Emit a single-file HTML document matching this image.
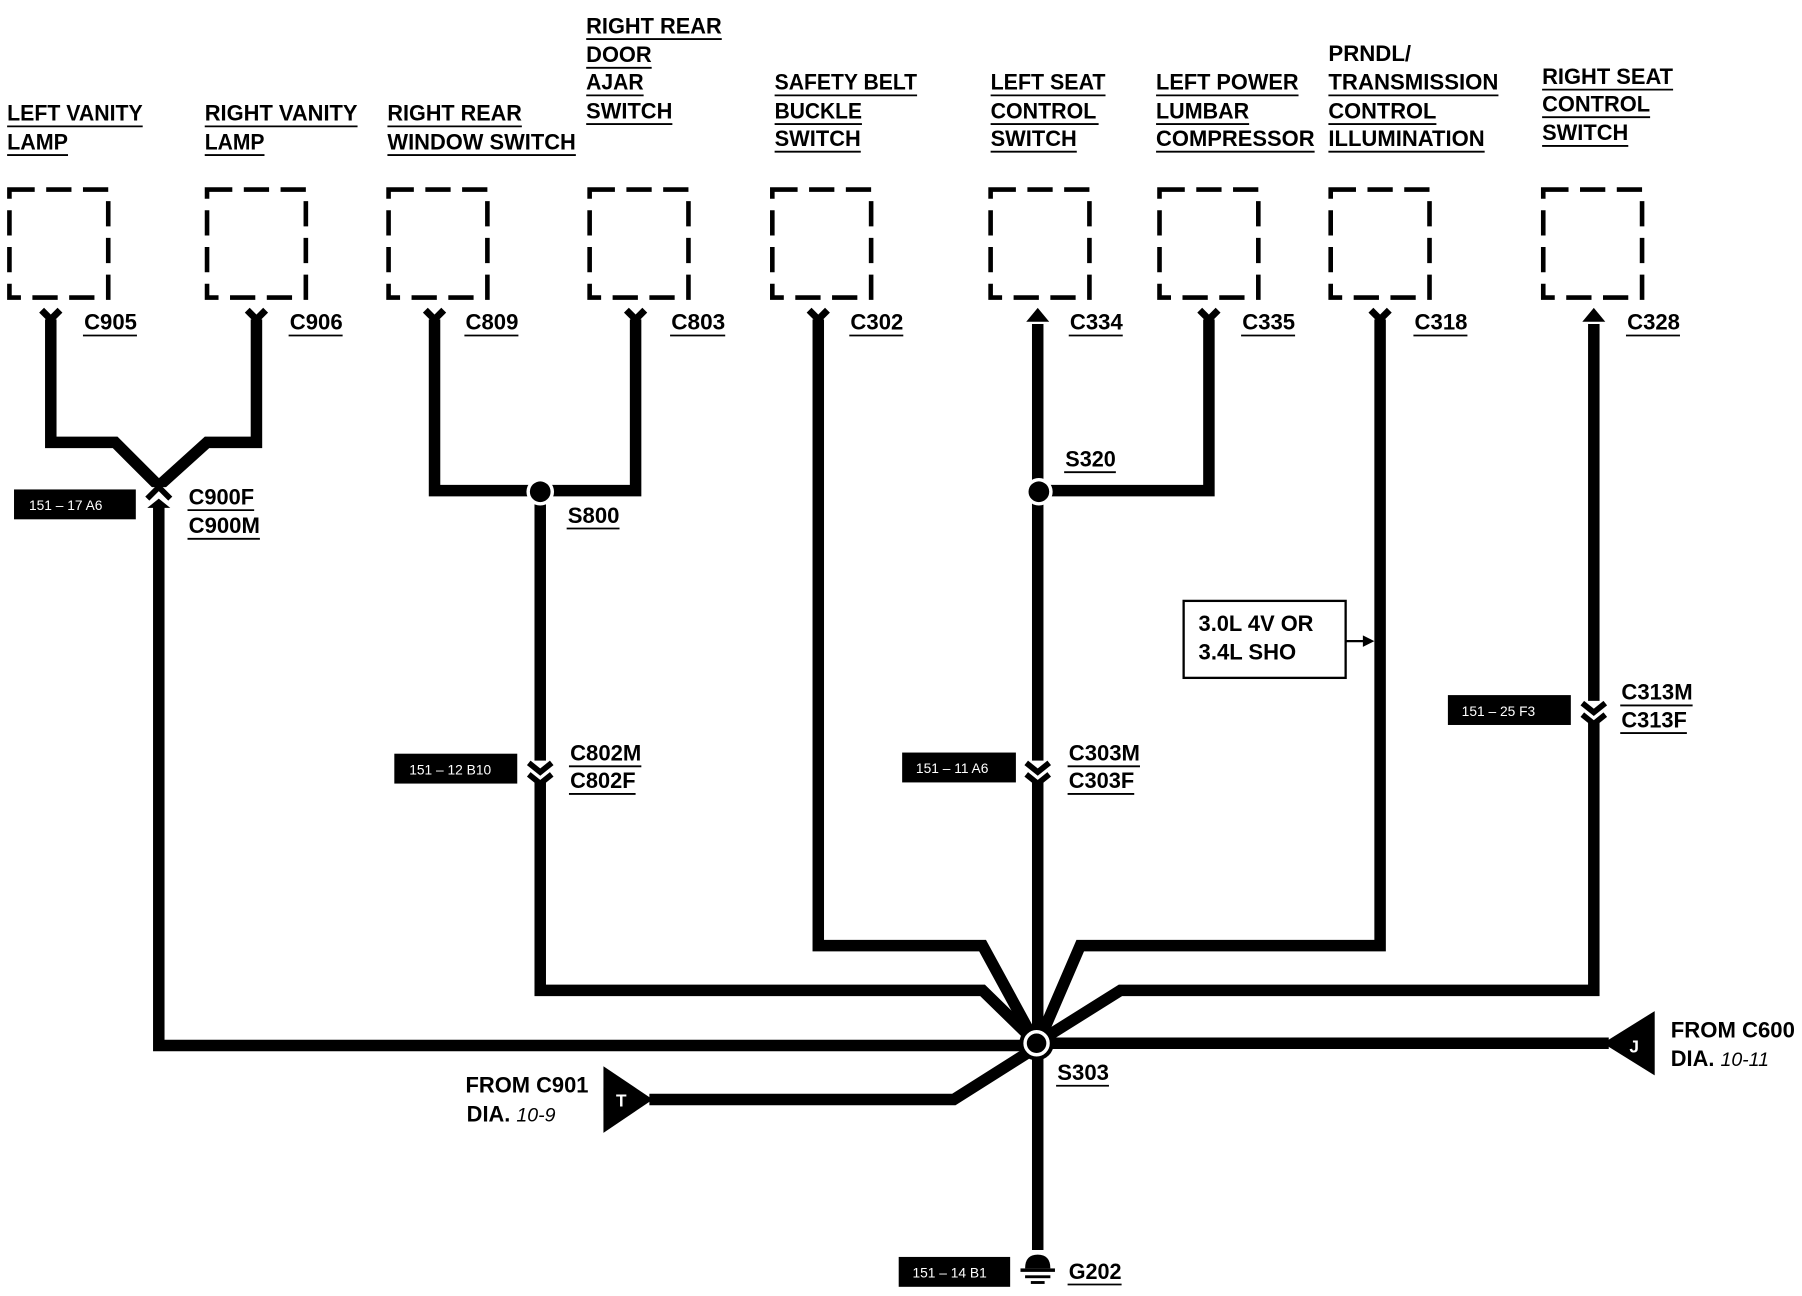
<!DOCTYPE html>
<html><head><meta charset="utf-8"><style>
html,body{margin:0;padding:0;background:#fff}
svg{display:block}
text{font-family:"Liberation Sans",sans-serif;font-weight:bold;font-size:19px;fill:#000}
.u{stroke:#000;stroke-width:1.6}
.w{fill:none;stroke:#000;stroke-width:10;stroke-linejoin:miter}
.bx{fill:none;stroke:#000;stroke-width:4;stroke-dasharray:22,10}
.tag{font-size:12px;fill:#fff;font-weight:normal}
</style></head><body>
<svg width="1802" height="1296" viewBox="0 0 1568 1128" xmlns="http://www.w3.org/2000/svg">
<!-- top labels -->
<g>
<text x="6" y="105" textLength="118" lengthAdjust="spacingAndGlyphs">LEFT VANITY</text><line class="u" x1="6" y1="110" x2="124" y2="110"/>
<text x="6" y="130" textLength="53" lengthAdjust="spacingAndGlyphs">LAMP</text><line class="u" x1="6" y1="135" x2="59" y2="135"/>
<text x="178" y="105" textLength="133" lengthAdjust="spacingAndGlyphs">RIGHT VANITY</text><line class="u" x1="178" y1="110" x2="311" y2="110"/>
<text x="178" y="130" textLength="52" lengthAdjust="spacingAndGlyphs">LAMP</text><line class="u" x1="178" y1="135" x2="230" y2="135"/>
<text x="337" y="105" textLength="117" lengthAdjust="spacingAndGlyphs">RIGHT REAR</text><line class="u" x1="337" y1="110" x2="454" y2="110"/>
<text x="337" y="130" textLength="164" lengthAdjust="spacingAndGlyphs">WINDOW SWITCH</text><line class="u" x1="337" y1="135" x2="501" y2="135"/>
<text x="510" y="29" textLength="118" lengthAdjust="spacingAndGlyphs">RIGHT REAR</text><line class="u" x1="510" y1="34" x2="628" y2="34"/>
<text x="510" y="54" textLength="57" lengthAdjust="spacingAndGlyphs">DOOR</text><line class="u" x1="510" y1="59" x2="567" y2="59"/>
<text x="510" y="78" textLength="50" lengthAdjust="spacingAndGlyphs">AJAR</text><line class="u" x1="510" y1="83" x2="560" y2="83"/>
<text x="510" y="103" textLength="75" lengthAdjust="spacingAndGlyphs">SWITCH</text><line class="u" x1="510" y1="108" x2="585" y2="108"/>
<text x="674" y="78" textLength="124" lengthAdjust="spacingAndGlyphs">SAFETY BELT</text><line class="u" x1="674" y1="83" x2="798" y2="83"/>
<text x="674" y="103" textLength="76" lengthAdjust="spacingAndGlyphs">BUCKLE</text><line class="u" x1="674" y1="108" x2="750" y2="108"/>
<text x="674" y="127" textLength="75" lengthAdjust="spacingAndGlyphs">SWITCH</text><line class="u" x1="674" y1="132" x2="749" y2="132"/>
<text x="862" y="78" textLength="100" lengthAdjust="spacingAndGlyphs">LEFT SEAT</text><line class="u" x1="862" y1="83" x2="962" y2="83"/>
<text x="862" y="103" textLength="92" lengthAdjust="spacingAndGlyphs">CONTROL</text><line class="u" x1="862" y1="108" x2="956" y2="108"/>
<text x="862" y="127" textLength="75" lengthAdjust="spacingAndGlyphs">SWITCH</text><line class="u" x1="862" y1="132" x2="937" y2="132"/>
<text x="1006" y="78" textLength="124" lengthAdjust="spacingAndGlyphs">LEFT POWER</text><line class="u" x1="1006" y1="83" x2="1130" y2="83"/>
<text x="1006" y="103" textLength="81" lengthAdjust="spacingAndGlyphs">LUMBAR</text><line class="u" x1="1006" y1="108" x2="1087" y2="108"/>
<text x="1006" y="127" textLength="138" lengthAdjust="spacingAndGlyphs">COMPRESSOR</text><line class="u" x1="1006" y1="132" x2="1144" y2="132"/>
<text x="1156" y="53" textLength="72" lengthAdjust="spacingAndGlyphs">PRNDL/</text>
<text x="1156" y="78" textLength="148" lengthAdjust="spacingAndGlyphs">TRANSMISSION</text><line class="u" x1="1156" y1="83" x2="1304" y2="83"/>
<text x="1156" y="103" textLength="94" lengthAdjust="spacingAndGlyphs">CONTROL</text><line class="u" x1="1156" y1="108" x2="1250" y2="108"/>
<text x="1156" y="127" textLength="136" lengthAdjust="spacingAndGlyphs">ILLUMINATION</text><line class="u" x1="1156" y1="132" x2="1292" y2="132"/>
<text x="1342" y="73" textLength="114" lengthAdjust="spacingAndGlyphs">RIGHT SEAT</text><line class="u" x1="1342" y1="78" x2="1456" y2="78"/>
<text x="1342" y="97" textLength="94" lengthAdjust="spacingAndGlyphs">CONTROL</text><line class="u" x1="1342" y1="102" x2="1436" y2="102"/>
<text x="1342" y="122" textLength="75" lengthAdjust="spacingAndGlyphs">SWITCH</text><line class="u" x1="1342" y1="127" x2="1417" y2="127"/>
</g>
<!-- dashed boxes -->
<g>
<rect class="bx" x="8" y="165" width="86" height="94"/>
<rect class="bx" x="180" y="165" width="86" height="94"/>
<rect class="bx" x="338" y="165" width="86" height="94"/>
<rect class="bx" x="513" y="165" width="86" height="94"/>
<rect class="bx" x="672" y="165" width="86" height="94"/>
<rect class="bx" x="862" y="165" width="86" height="94"/>
<rect class="bx" x="1009" y="165" width="86" height="94"/>
<rect class="bx" x="1158" y="165" width="86" height="94"/>
<rect class="bx" x="1343" y="165" width="86" height="94"/>
</g>
<!-- connector labels -->
<g>
<text x="73" y="287" textLength="46" lengthAdjust="spacingAndGlyphs">C905</text><line class="u" x1="72" y1="292" x2="119" y2="292"/>
<text x="252" y="287" textLength="46" lengthAdjust="spacingAndGlyphs">C906</text><line class="u" x1="251" y1="292" x2="298" y2="292"/>
<text x="405" y="287" textLength="46" lengthAdjust="spacingAndGlyphs">C809</text><line class="u" x1="404" y1="292" x2="451" y2="292"/>
<text x="584" y="287" textLength="47" lengthAdjust="spacingAndGlyphs">C803</text><line class="u" x1="583" y1="292" x2="631" y2="292"/>
<text x="740" y="287" textLength="46" lengthAdjust="spacingAndGlyphs">C302</text><line class="u" x1="739" y1="292" x2="786" y2="292"/>
<text x="931" y="287" textLength="46" lengthAdjust="spacingAndGlyphs">C334</text><line class="u" x1="930" y1="292" x2="977" y2="292"/>
<text x="1081" y="287" textLength="46" lengthAdjust="spacingAndGlyphs">C335</text><line class="u" x1="1080" y1="292" x2="1127" y2="292"/>
<text x="1231" y="287" textLength="46" lengthAdjust="spacingAndGlyphs">C318</text><line class="u" x1="1230" y1="292" x2="1277" y2="292"/>
<text x="1416" y="287" textLength="46" lengthAdjust="spacingAndGlyphs">C328</text><line class="u" x1="1415" y1="292" x2="1462" y2="292"/>
<text x="164" y="439" textLength="57" lengthAdjust="spacingAndGlyphs">C900F</text><line class="u" x1="163" y1="444" x2="221" y2="444"/>
<text x="164" y="464" textLength="62" lengthAdjust="spacingAndGlyphs">C900M</text><line class="u" x1="163" y1="469" x2="226" y2="469"/>
<text x="494" y="455" textLength="45" lengthAdjust="spacingAndGlyphs">S800</text><line class="u" x1="493" y1="460" x2="539" y2="460"/>
<text x="927" y="406" textLength="44" lengthAdjust="spacingAndGlyphs">S320</text><line class="u" x1="926" y1="411" x2="971" y2="411"/>
<text x="496" y="662" textLength="62" lengthAdjust="spacingAndGlyphs">C802M</text><line class="u" x1="495" y1="667" x2="558" y2="667"/>
<text x="496" y="686" textLength="57" lengthAdjust="spacingAndGlyphs">C802F</text><line class="u" x1="495" y1="691" x2="553" y2="691"/>
<text x="930" y="662" textLength="62" lengthAdjust="spacingAndGlyphs">C303M</text><line class="u" x1="929" y1="667" x2="992" y2="667"/>
<text x="930" y="686" textLength="57" lengthAdjust="spacingAndGlyphs">C303F</text><line class="u" x1="929" y1="691" x2="987" y2="691"/>
<text x="1411" y="609" textLength="62" lengthAdjust="spacingAndGlyphs">C313M</text><line class="u" x1="1410" y1="614" x2="1473" y2="614"/>
<text x="1411" y="633" textLength="57" lengthAdjust="spacingAndGlyphs">C313F</text><line class="u" x1="1410" y1="638" x2="1468" y2="638"/>
<text x="920" y="940" textLength="45" lengthAdjust="spacingAndGlyphs">S303</text><line class="u" x1="919" y1="945" x2="965" y2="945"/>
<text x="930" y="1113" textLength="46" lengthAdjust="spacingAndGlyphs">G202</text><line class="u" x1="929" y1="1118" x2="976" y2="1118"/>
</g>
<!-- wires -->
<g class="w">
<polyline class="w" points="44,278 44,385 100,385 138,423 180,385 223,385 223,278"/>
<polyline class="w" points="138,440 138,910 895,910"/>
<polyline class="w" points="378,278 378,427 553,427 553,278"/>
<polyline class="w" points="470,428 470,862 855,862 898,904"/>
<polyline class="w" points="712,278 712,823 855,823 898,902"/>
<polyline class="w" points="903,282 903,1088"/>
<polyline class="w" points="903,427 1052,427 1052,278"/>
<polyline class="w" points="1201,278 1201,823 940,823 906,902"/>
<polyline class="w" points="1387,282 1387,862 975,862 908,904"/>
<polyline class="w" points="910,908 1400,908"/>
<polyline class="w" points="898,914 830,957 565,957"/>
</g>
<!-- female Y connectors at top -->
<g fill="none" stroke="#000" stroke-width="6">
<polyline points="36,270 44,278 52,270"/>
<polyline points="215,270 223,278 231,270"/>
<polyline points="370,270 378,278 386,270"/>
<polyline points="545,270 553,278 561,270"/>
<polyline points="704,270 712,278 720,270"/>
<polyline points="1044,270 1052,278 1060,270"/>
<polyline points="1193,270 1201,278 1209,270"/>
</g>
<!-- male arrows -->
<polygon points="893,280 903,268 913,280" fill="#000"/>
<polygon points="1377,280 1387,268 1397,280" fill="#000"/>
<!-- inline connectors (white gaps + chevrons) -->
<g>
<rect x="128" y="424" width="20" height="16" fill="#fff"/>
<polyline points="128,434 138,424 148,434" fill="none" stroke="#000" stroke-width="5"/>
<polygon points="128,442 138,434 148,442" fill="#000"/>
<rect x="460" y="662" width="20" height="18" fill="#fff"/>
<polyline points="460,664 470,672 480,664" fill="none" stroke="#000" stroke-width="5"/>
<polyline points="460,674 470,682 480,674" fill="none" stroke="#000" stroke-width="5"/>
<rect x="893" y="662" width="20" height="18" fill="#fff"/>
<polyline points="893,664 903,672 913,664" fill="none" stroke="#000" stroke-width="5"/>
<polyline points="893,674 903,682 913,674" fill="none" stroke="#000" stroke-width="5"/>
<rect x="1377" y="610" width="20" height="18" fill="#fff"/>
<polyline points="1377,612 1387,620 1397,612" fill="none" stroke="#000" stroke-width="5"/>
<polyline points="1377,622 1387,630 1397,622" fill="none" stroke="#000" stroke-width="5"/>
</g>
<!-- splices -->
<circle cx="470" cy="428" r="12" fill="#fff"/><circle cx="470" cy="428" r="9" fill="#000"/>
<circle cx="904" cy="428" r="12" fill="#fff"/><circle cx="904" cy="428" r="9" fill="#000"/>
<circle cx="902" cy="908" r="15" fill="#000"/>
<circle cx="902" cy="908" r="10" fill="#000" stroke="#fff" stroke-width="3"/>
<!-- ground -->
<g fill="#000">
<path d="M892,1104 Q892,1092 903,1092 Q914,1092 914,1104 Z"/>
<rect x="888" y="1104" width="30" height="3"/>
<rect x="892" y="1110" width="22" height="2.5"/>
<rect x="897" y="1115" width="12" height="2.5"/>
</g>
<!-- connectors to other diagrams -->
<polygon points="1395,908 1440,880 1440,936" fill="#000"/>
<text x="1418" y="916" style="font-size:15px;fill:#fff">J</text>
<text x="1454" y="903" textLength="108" lengthAdjust="spacingAndGlyphs">FROM C600</text>
<text x="1454" y="928">DIA. <tspan style="font-style:italic;font-weight:normal;font-size:17px">10-11</tspan></text>
<polygon points="568,957 525,928 525,986" fill="#000"/>
<text x="536" y="963" style="font-size:15px;fill:#fff">T</text>
<text x="405" y="951" textLength="107" lengthAdjust="spacingAndGlyphs">FROM C901</text>
<text x="406" y="976">DIA. <tspan style="font-style:italic;font-weight:normal;font-size:17px">10-9</tspan></text>
<!-- note box -->
<rect x="1030" y="523" width="141" height="67" fill="#fff" stroke="#000" stroke-width="2"/>
<text x="1043" y="549" textLength="100" lengthAdjust="spacingAndGlyphs">3.0L 4V OR</text>
<text x="1043" y="574" textLength="85" lengthAdjust="spacingAndGlyphs">3.4L SHO</text>
<line x1="1171" y1="558" x2="1190" y2="558" stroke="#000" stroke-width="2"/>
<polygon points="1196,558 1186,553 1186,563" fill="#000"/>
<!-- tag boxes -->
<rect x="12" y="426" width="106" height="26" fill="#000"/><text class="tag" x="25" y="444">151 – 17 A6</text>
<rect x="343" y="656" width="107" height="26" fill="#000"/><text class="tag" x="356" y="674">151 – 12 B10</text>
<rect x="785" y="655" width="99" height="26" fill="#000"/><text class="tag" x="797" y="673">151 – 11 A6</text>
<rect x="1260" y="605" width="107" height="26" fill="#000"/><text class="tag" x="1272" y="623">151 – 25 F3</text>
<rect x="782" y="1094" width="97" height="26" fill="#000"/><text class="tag" x="794" y="1112">151 – 14 B1</text>
</svg>
</body></html>
